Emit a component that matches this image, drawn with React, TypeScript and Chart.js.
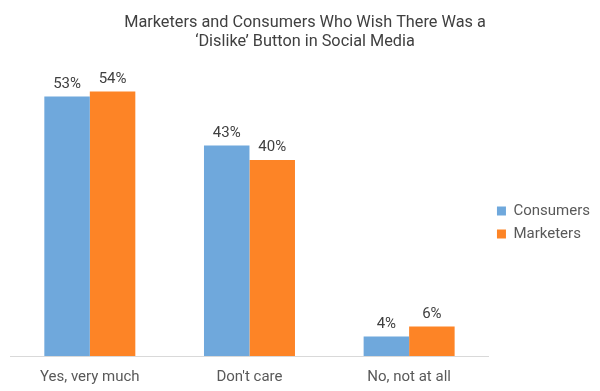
import React, { useEffect, useRef } from "react";
import { Chart, registerables } from "chart.js";

Chart.register(...registerables);

const categories = ["Yes, very much", "Don't care", "No, not at all"];
const consumers = [53, 43, 4];
const marketers = [54, 40, 6];
const titleLines = ["Marketers and Consumers Who Wish There Was a", "\u2018Dislike\u2019 Button in Social Media"];

const FONT = "Roboto, 'DejaVu Sans', sans-serif";

const labelPlugin = {
  id: "barLabels",
  afterDatasetsDraw(chart: any) {
    const ctx = chart.ctx;
    ctx.save();
    ctx.font = `15px ${FONT}`;
    ctx.fillStyle = "#404040";
    ctx.textAlign = "center";
    ctx.textBaseline = "bottom";
    chart.data.datasets.forEach((ds: any, i: number) => {
      const meta = chart.getDatasetMeta(i);
      meta.data.forEach((el: any, j: number) => {
        ctx.fillText(ds.data[j] + "%", el.x, el.y - 5);
      });
    });
    ctx.restore();
  },
};

export default function App() {
  const ref = useRef<HTMLCanvasElement>(null);
  useEffect(() => {
    const chart = new Chart(ref.current!, {
      type: "bar",
      data: {
        labels: categories,
        datasets: [
          { label: "Consumers", data: consumers, backgroundColor: "#6fa8dc" },
          { label: "Marketers", data: marketers, backgroundColor: "#fd8426" },
        ],
      },
      options: {
        animation: false,
        responsive: false,
        maintainAspectRatio: false,
        layout: { padding: { left: 10, right: 0, top: 6, bottom: 0 } },
        datasets: { bar: { categoryPercentage: 0.57, barPercentage: 1 } } as any,
        scales: {
          x: {
            grid: { display: false, drawTicks: false },
            border: { display: true, color: "#d9d9d9", width: 1 },
            ticks: { color: "#595959", font: { family: FONT, size: 15 }, padding: 12 },
            afterFit: (s: any) => {
              s.height = 35;
            },
          },
          y: { display: false, min: 0, max: 60 },
        },
        plugins: {
          title: {
            display: true,
            text: titleLines,
            color: "#404040",
            font: { family: FONT, size: 16.3, weight: "normal" },
            padding: { top: 7, bottom: 10 },
          },
          legend: {
            position: "right",
            title: {
              display: true,
              text: " ",
              color: "rgba(0,0,0,0)",
              font: { family: FONT, size: 10 },
              padding: { top: 18, bottom: 18 },
            },
            labels: {
              boxWidth: 9,
              boxHeight: 9,
              color: "#595959",
              font: { family: FONT, size: 15 },
              padding: 8,
            },
          },
          tooltip: { enabled: false },
        },
      },
      plugins: [labelPlugin],
    });
    return () => chart.destroy();
  }, []);
  return (
    <div style={{ position: "absolute", left: 0, top: 0, width: 600, height: 391, background: "#fff" }}>
      <canvas ref={ref} width={600} height={391} />
    </div>
  );
}
